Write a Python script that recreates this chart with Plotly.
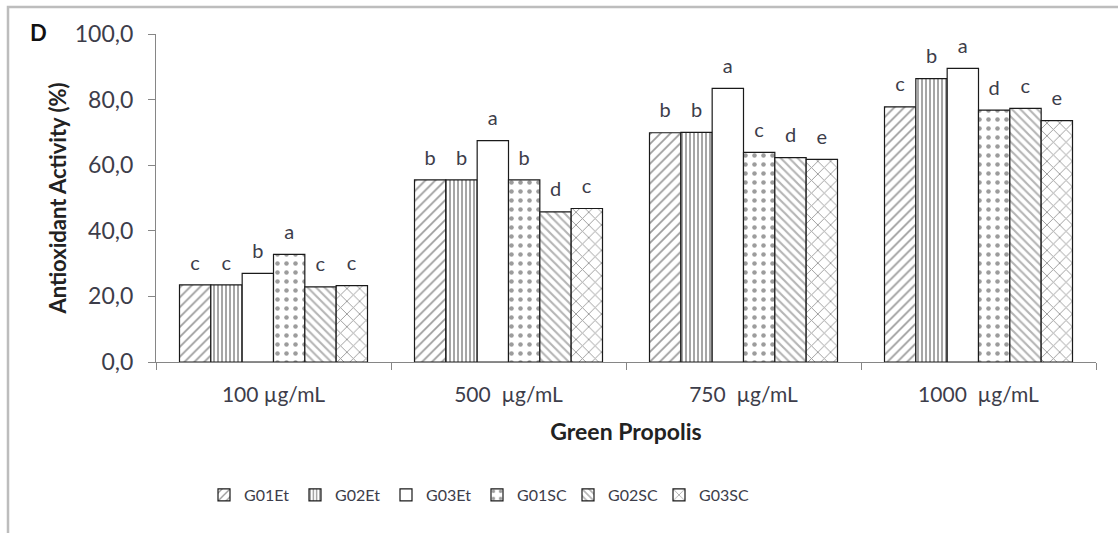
import plotly.graph_objects as go

categories = ["100 µg/mL", "500  µg/mL", "750  µg/mL", "1000  µg/mL"]
series_names = ["G01Et", "G02Et", "G03Et", "G01SC", "G02SC", "G03SC"]

G01Et = [23.5, 55.5, 69.9, 77.8]
G02Et = [23.5, 55.5, 70.0, 86.4]
G03Et = [27.0, 67.5, 83.4, 89.5]
G01SC = [32.8, 55.5, 63.9, 76.8]
G02SC = [22.9, 45.8, 62.3, 77.3]
G03SC = [23.3, 46.8, 61.8, 73.6]

L_G01Et = ["c", "b", "b", "c"]
L_G02Et = ["c", "b", "b", "b"]
L_G03Et = ["b", "a", "a", "a"]
L_G01SC = ["a", "b", "c", "d"]
L_G02SC = ["c", "d", "d", "c"]
L_G03SC = ["c", "c", "e", "e"]

values = [G01Et, G02Et, G03Et, G01SC, G02SC, G03SC]
letters = [L_G01Et, L_G02Et, L_G03Et, L_G01SC, L_G02SC, L_G03SC]

patterns = [
    dict(shape="/", fgcolor="#3a3a3a", size=7, solidity=0.25),
    dict(shape="|", fgcolor="#3a3a3a", size=4, solidity=0.45),
    dict(shape="", fgcolor="#000000"),
    dict(shape=".", fgcolor="#3a3a3a", size=9, solidity=0.2),
    dict(shape="\\", fgcolor="#6a6a6a", size=6, solidity=0.35),
    dict(shape="x", fgcolor="#3a3a3a", size=9, solidity=0.2),
]

FONT = "Lato, 'Open Sans', sans-serif"
TXT = "#3d3d4a"

fig = go.Figure()
for name, vals, lets, pat in zip(series_names, values, letters, patterns):
    fig.add_trace(go.Bar(
        name=name, x=categories, y=vals,
        text=[f"<span style='font-size:20px'>{l}</span><br> " for l in lets],
        textposition="outside", cliponaxis=False, constraintext="none",
        textfont=dict(family=FONT, size=8, color=TXT),
        marker=dict(color="white", pattern=pat,
                    line=dict(color="#1a1a1a", width=1.2)),
    ))

W0, W, H0 = 156, 940, 328  # plot left px, width, height (for border placement)

def px(xp):
    return (xp - W0) / W

def py(yp):
    return (362 - yp) / H0

fig.update_layout(
    width=1118, height=533,
    margin=dict(l=156, r=22, t=34, b=171),
    paper_bgcolor="white", plot_bgcolor="white",
    barmode="group", bargap=0.2, bargroupgap=0,
    separators=",.",
    font=dict(family=FONT, size=15, color=TXT),
    showlegend=True,
    legend=dict(orientation="h", x=px(477), xanchor="center", y=py(495), yanchor="middle",
                font=dict(family=FONT, size=16, color=TXT),
                entrywidth=46, entrywidthmode="pixels", itemwidth=30,
                traceorder="normal"),
    xaxis=dict(showline=True, linecolor="#868686", linewidth=1.2,
               ticks="outside", tickson="boundaries", ticklen=7, tickcolor="#868686",
               ticklabelstandoff=14,
               tickfont=dict(family=FONT, size=21, color=TXT),
               title=dict(text="<b>Green Propolis</b>", font=dict(family=FONT, size=23, color="#222"),
                          standoff=18)),
    yaxis=dict(range=[0, 100], dtick=20, tickformat=".1f",
               showline=True, linecolor="#868686", linewidth=1.2,
               ticks="outside", ticklen=7, tickcolor="#868686",
               ticklabelstandoff=10,
               showgrid=False, zeroline=False,
               tickfont=dict(family=FONT, size=23, color=TXT),
               title=dict(text="<b>Antioxidant Activity (%)</b>",
                          font=dict(family=FONT, size=22, color="#222"), standoff=2)),
    annotations=[dict(text="<b>D</b>", x=px(38), y=py(32), xref="paper", yref="paper",
                      xanchor="center", yanchor="middle",
                      showarrow=False, font=dict(family=FONT, size=22, color="#111"))],
    shapes=[dict(type="path", xref="paper", yref="paper",
                 path=f"M {px(8)} {py(533)} L {px(8)} {py(7)} L {px(1118)} {py(7)}",
                 line=dict(color="#bdbdbd", width=2.5))],
)

fig.write_html("out.html")
